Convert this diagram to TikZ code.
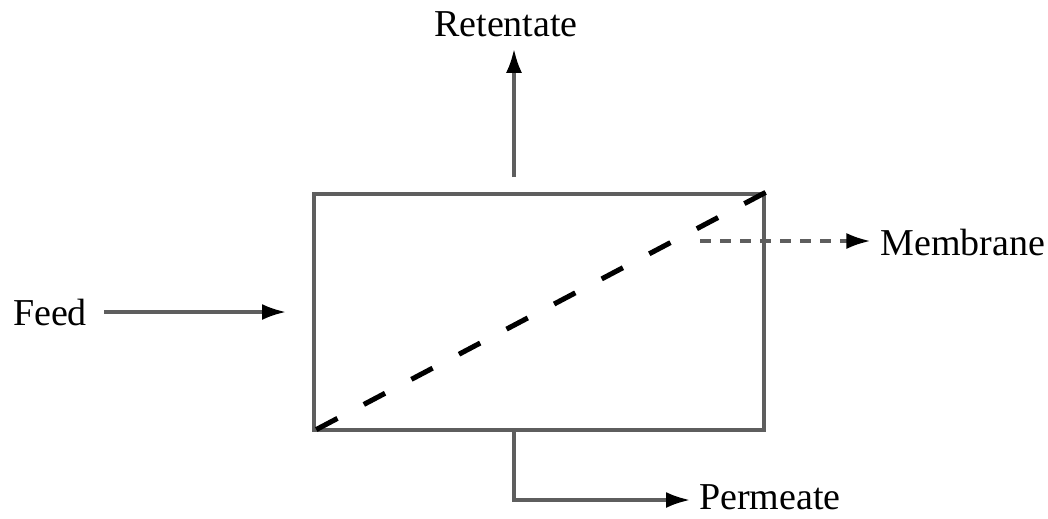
\documentclass[tikz,border=0pt]{standalone}
\usepackage{fontspec}
\setmainfont{Liberation Serif}
\usetikzlibrary{arrows.meta,calc}
\definecolor{linegray}{HTML}{5E5E5E}
\tikzset{
  lbl/.style={font=\fontsize{28.5}{32}\selectfont, inner sep=0pt},
  flow/.style={draw=linegray, line width=2.4pt, -{Latex[length=18pt,width=12pt,black]}},
  membr/.style={draw=black, line width=3.8pt, dash pattern=on 18pt off 22.34pt},
  mflow/.style={draw=linegray, line width=2.4pt, dash pattern=on 8pt off 7pt, -{Latex[length=18pt,width=12pt,black]}},
  unit/.style={draw=linegray, line width=2.4pt, minimum width=337.5pt, minimum height=177pt, inner sep=0pt}
}
\begin{document}
\begin{tikzpicture}[x=0.75pt,y=-0.75pt]
\useasboundingbox (0,0) rectangle (1048,518);
\node[unit] (box) at (539,312) {};
\node[lbl] (feed) at (50,312) {Feed};
\node[lbl] (ret) at (506,24) {Retentate};
\node[lbl] (mem) at (963,242) {Membrane};
\node[lbl] (perm) at (770,497) {Permeate};
\coordinate (feedend) at (286,312);
\coordinate (retstart) at (514,177);
\coordinate (memstart) at (700,241);
\coordinate (permstart) at (514,430);
\coordinate (permend) at (690,500);
\draw[membr] (box.north east) -- (box.south west);
\draw[flow] ($(feed.east)+(17,0)$) -- (feedend);
\draw[flow] (retstart) -- ($(ret.south)+(8,12)$);
\draw[mflow] (memstart) -- ($(mem.west)+(-10,-1)$);
\draw[flow] (permstart) |- (permend);
\end{tikzpicture}
\end{document}
